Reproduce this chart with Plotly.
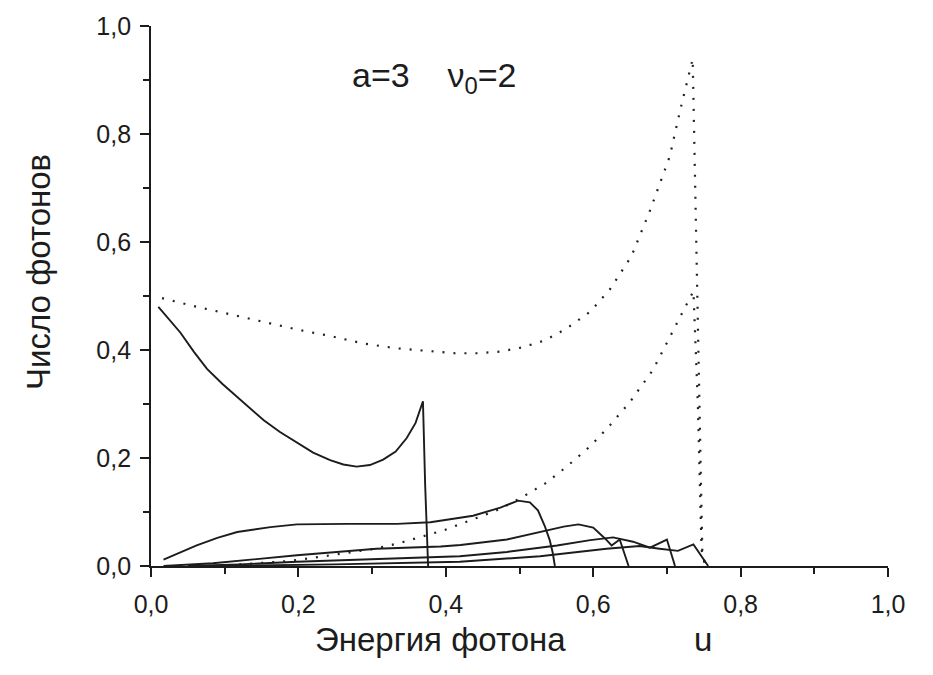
import plotly.graph_objects as go

# Dotted curves: total photon number for the two cases (u = photon energy)
u_dot_upper = [0.015, 0.062, 0.108, 0.153, 0.198, 0.243, 0.288, 0.334, 0.370, 0.413,
               0.442, 0.474, 0.504, 0.535, 0.564, 0.596, 0.623, 0.652, 0.677, 0.704,
               0.718, 0.729, 0.735, 0.742, 0.748, 0.752]
n_dot_upper = [0.496, 0.480, 0.466, 0.452, 0.438, 0.426, 0.412, 0.403, 0.399, 0.394,
               0.394, 0.397, 0.405, 0.418, 0.440, 0.471, 0.513, 0.574, 0.658, 0.759,
               0.844, 0.902, 0.939, 0.450, 0.030, 0.0]

u_dot_lower = [0.090, 0.123, 0.153, 0.184, 0.214, 0.243, 0.275, 0.304, 0.336, 0.365,
               0.397, 0.442, 0.474, 0.503, 0.535, 0.564, 0.596, 0.623, 0.650, 0.681,
               0.697, 0.712, 0.727, 0.736, 0.742, 0.747, 0.752]
n_dot_lower = [0.0, 0.003, 0.006, 0.009, 0.014, 0.020, 0.026, 0.032, 0.042, 0.053,
               0.066, 0.089, 0.106, 0.127, 0.153, 0.184, 0.222, 0.261, 0.304, 0.363,
               0.406, 0.446, 0.487, 0.509, 0.300, 0.030, 0.0]

# Solid curves: individual harmonics
u_h1 = [0.010, 0.025, 0.040, 0.058, 0.076, 0.097, 0.117, 0.135, 0.153, 0.175,
        0.198, 0.220, 0.243, 0.261, 0.279, 0.297, 0.315, 0.332, 0.347, 0.359,
        0.369, 0.372, 0.376]
n_h1 = [0.480, 0.456, 0.432, 0.397, 0.365, 0.337, 0.313, 0.290, 0.270, 0.248,
        0.228, 0.210, 0.196, 0.188, 0.184, 0.187, 0.197, 0.212, 0.237, 0.265,
        0.305, 0.150, 0.0]

u_h2 = [0.017, 0.040, 0.062, 0.090, 0.117, 0.162, 0.198, 0.266, 0.334, 0.379,
        0.406, 0.437, 0.474, 0.498, 0.514, 0.525, 0.534, 0.541, 0.545, 0.548]
n_h2 = [0.012, 0.026, 0.038, 0.052, 0.063, 0.072, 0.077, 0.078, 0.078, 0.081,
        0.087, 0.093, 0.108, 0.121, 0.118, 0.103, 0.075, 0.048, 0.025, 0.0]

u_h3 = [0.017, 0.084, 0.198, 0.306, 0.393, 0.420, 0.483, 0.537, 0.560, 0.580,
        0.600, 0.616, 0.625, 0.636, 0.648]
n_h3 = [0.0, 0.005, 0.020, 0.032, 0.036, 0.039, 0.049, 0.066, 0.073, 0.077,
        0.071, 0.051, 0.038, 0.049, 0.0]

u_h4 = [0.050, 0.120, 0.198, 0.419, 0.483, 0.551, 0.596, 0.627, 0.654, 0.677,
        0.700, 0.711]
n_h4 = [0.0, 0.003, 0.008, 0.018, 0.026, 0.038, 0.048, 0.053, 0.045, 0.034,
        0.049, 0.0]

u_h5 = [0.080, 0.250, 0.419, 0.528, 0.618, 0.663, 0.690, 0.715, 0.736, 0.756]
n_h5 = [0.0, 0.003, 0.008, 0.018, 0.032, 0.037, 0.032, 0.028, 0.040, 0.0]

tick_vals = [0.0, 0.2, 0.4, 0.6, 0.8, 1.0]

FONT = "Liberation Sans, Arial, sans-serif"
INK = "#1c1c1c"

fig = go.Figure()

for u, n in [(u_dot_upper, n_dot_upper), (u_dot_lower, n_dot_lower)]:
    fig.add_trace(go.Scatter(x=u, y=n, mode="lines",
                             line=dict(color="#222222", width=2.2, dash="2px,9px"),
                             showlegend=False))

for u, n in [(u_h1, n_h1), (u_h2, n_h2), (u_h3, n_h3), (u_h4, n_h4), (u_h5, n_h5)]:
    fig.add_trace(go.Scatter(x=u, y=n, mode="lines",
                             line=dict(color=INK, width=1.9),
                             showlegend=False))

axis_common = dict(
    range=[0, 1],
    tickvals=tick_vals,
    tickformat=".1f",
    ticks="outside",
    ticklen=9,
    tickwidth=1.6,
    tickcolor=INK,
    showline=True,
    linewidth=1.8,
    linecolor=INK,
    showgrid=False,
    zeroline=False,
    tickfont=dict(family=FONT, size=25, color=INK),
    minor=dict(ticks="outside", ticklen=6, tickwidth=1.6, tickcolor=INK,
               tick0=0, dtick=0.1, showgrid=False),
)

fig.update_xaxes(**axis_common, ticklabelstandoff=6)
fig.update_yaxes(**axis_common, ticklabelstandoff=4)

# x-axis title: quantity name with the symbol set well apart on the right
fig.add_annotation(x=0.220, y=-0.1355, xref="paper", yref="paper",
                   xanchor="left", yanchor="middle", showarrow=False,
                   text="Энергия фотона" + "\u00a0" * 14 + "u",
                   font=dict(family=FONT, size=33, color=INK))

# y-axis title, placed a little above the plot's vertical centre
fig.add_annotation(x=-0.153, y=0.545, xref="paper", yref="paper",
                   xanchor="center", yanchor="middle", showarrow=False,
                   textangle=-90, text="Число фотонов",
                   font=dict(family=FONT, size=33, color=INK))

fig.add_annotation(x=0.270, y=0.905, xref="x", yref="y",
                   xanchor="left", yanchor="middle", showarrow=False,
                   text="a=3" + "\u00a0" * 4 + "ν<sub>0</sub>=2",
                   font=dict(family=FONT, size=34, color=INK))

fig.update_layout(
    width=933, height=675,
    margin=dict(l=151, r=45, t=20, b=109),
    paper_bgcolor="white",
    plot_bgcolor="white",
    separators=", ",
)

fig.write_html("out.html")
